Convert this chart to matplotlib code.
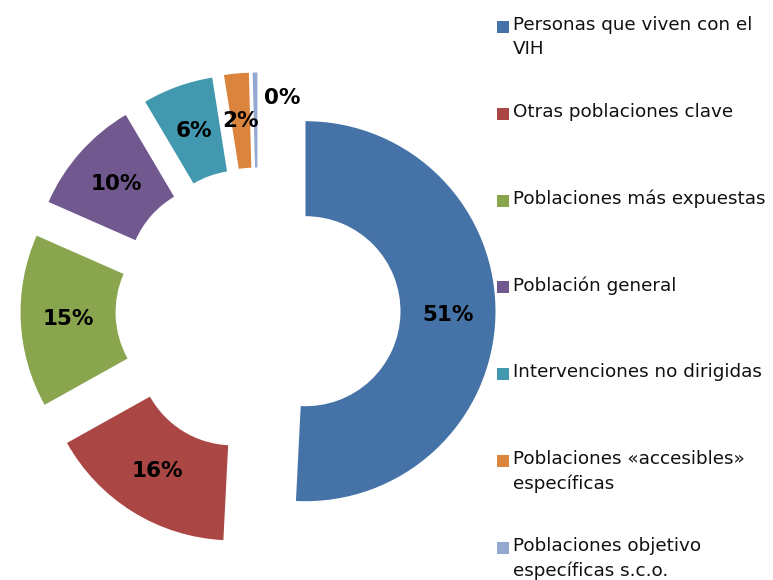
import matplotlib
matplotlib.use("Agg")
import matplotlib.pyplot as plt
from matplotlib.patches import Rectangle

# Share of spending by target population (percent)
categories = [
    "Personas que viven con el\nVIH",
    "Otras poblaciones clave",
    "Poblaciones más expuestas",
    "Población general",
    "Intervenciones no dirigidas",
    "Poblaciones «accesibles»\nespecíficas",
    "Poblaciones objetivo\nespecíficas s.c.o.",
]
shares = [50.8, 16.1, 14.7, 9.9, 6.0, 2.1, 0.4]
colors = ["#4572A7", "#AA4643", "#89A54E", "#71588F", "#4198AF", "#DB843D", "#93A9CF"]

W, H = 773, 580
cx, cy, R = 258, 310, 190  # pie centre and radius in pixels

fig = plt.figure(figsize=(W / 100, H / 100), dpi=100)
ax = fig.add_axes([0, 0, 1, 1])

wedges, _, pcts = ax.pie(
    shares,
    colors=colors,
    startangle=90,
    counterclock=False,
    radius=1.0,
    explode=[0.25] * len(shares),
    wedgeprops=dict(width=0.5, linewidth=0),
    autopct="%.0f%%",
    pctdistance=0.75,
    textprops=dict(fontsize=15.5, fontweight="bold", color="black"),
)

# last label was nudged aside in the original so it does not sit on the thin slice
x0, y0 = pcts[-1].get_position()
pcts[-1].set_position((x0 + 0.14, y0 + 0.115))

ax.set_xlim(-cx / R, (W - cx) / R)
ax.set_ylim(-(H - cy) / R, cy / R)
ax.set_axis_off()

# legend on the right, one slot per entry
top, step = 27, 86.8
for i, (label, col) in enumerate(zip(categories, colors)):
    y = top + i * step
    fig.patches.append(Rectangle((497 / W, 1 - (y + 6) / H), 12 / W, 12 / H,
                                 transform=fig.transFigure, facecolor=col, edgecolor="none"))
    fig.text(513 / W, 1 - (y - 11) / H, label, fontsize=13.2, va="top", ha="left",
             linespacing=1.45, color="#111111")

fig.savefig("out.png", dpi=100)
